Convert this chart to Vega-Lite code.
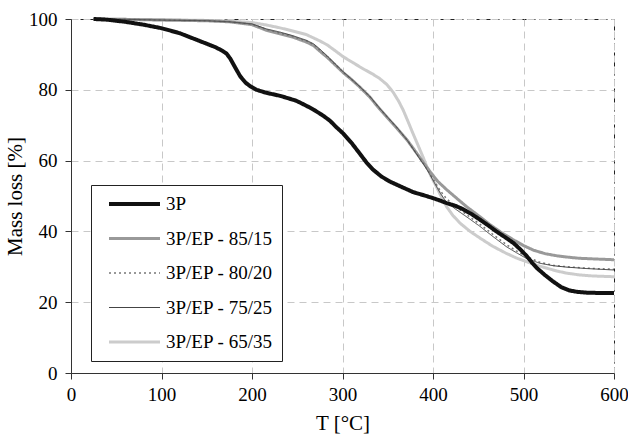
{
  "$schema": "https://vega.github.io/schema/vega-lite/v6.json",
  "width": 543,
  "height": 354,
  "autosize": {"type": "none"},
  "padding": {"left": 71, "top": 19, "right": 14, "bottom": 61},
  "background": "white",
  "config": {
    "font": "Liberation Serif",
    "view": {"stroke": "#222", "strokeDash": [5, 4], "strokeWidth": 1},
    "axis": {
      "labelFont": "Liberation Serif",
      "titleFont": "Liberation Serif",
      "labelFontSize": 19,
      "titleFontSize": 21,
      "titleFontWeight": "normal",
      "labelColor": "#000",
      "titleColor": "#000",
      "domainColor": "#333",
      "tickColor": "#333",
      "tickSize": 6,
      "gridColor": "#c8c8c8",
      "gridDash": [7, 5],
      "gridWidth": 1
    },
    "legend": {
      "labelFont": "Liberation Serif",
      "labelFontSize": 19,
      "labelFontWeight": "normal",
      "labelColor": "#000"
    }
  },
  "data": {
    "values": [
      {"s": "3P", "T": 25, "M": 100}, {"s": "3P", "T": 40, "M": 99.8}, {"s": "3P", "T": 60, "M": 99.2}, {"s": "3P", "T": 80, "M": 98.4}, {"s": "3P", "T": 100, "M": 97.4}, {"s": "3P", "T": 120, "M": 96.0}, {"s": "3P", "T": 142, "M": 93.8}, {"s": "3P", "T": 160, "M": 92.0}, {"s": "3P", "T": 168, "M": 90.9}, {"s": "3P", "T": 172, "M": 90.2}, {"s": "3P", "T": 176, "M": 88.8}, {"s": "3P", "T": 181, "M": 86.5}, {"s": "3P", "T": 187, "M": 83.8}, {"s": "3P", "T": 193, "M": 82.0}, {"s": "3P", "T": 198, "M": 81.0}, {"s": "3P", "T": 205, "M": 80.0}, {"s": "3P", "T": 215, "M": 79.2}, {"s": "3P", "T": 231, "M": 78.3}, {"s": "3P", "T": 249, "M": 76.9}, {"s": "3P", "T": 260, "M": 75.5}, {"s": "3P", "T": 268, "M": 74.4}, {"s": "3P", "T": 278, "M": 72.8}, {"s": "3P", "T": 286, "M": 71.3}, {"s": "3P", "T": 293, "M": 69.5}, {"s": "3P", "T": 301, "M": 67.6}, {"s": "3P", "T": 310, "M": 65.0}, {"s": "3P", "T": 319, "M": 62.0}, {"s": "3P", "T": 327, "M": 59.3}, {"s": "3P", "T": 334, "M": 57.4}, {"s": "3P", "T": 343, "M": 55.5}, {"s": "3P", "T": 353, "M": 54.0}, {"s": "3P", "T": 365, "M": 52.6}, {"s": "3P", "T": 378, "M": 51.1}, {"s": "3P", "T": 390, "M": 50.2}, {"s": "3P", "T": 400, "M": 49.4}, {"s": "3P", "T": 408, "M": 48.7}, {"s": "3P", "T": 415, "M": 48.0}, {"s": "3P", "T": 425, "M": 47.2}, {"s": "3P", "T": 433, "M": 46.3}, {"s": "3P", "T": 442, "M": 45.0}, {"s": "3P", "T": 452, "M": 43.3}, {"s": "3P", "T": 461, "M": 41.7}, {"s": "3P", "T": 470, "M": 40.0}, {"s": "3P", "T": 480, "M": 38.3}, {"s": "3P", "T": 489, "M": 36.7}, {"s": "3P", "T": 497, "M": 34.8}, {"s": "3P", "T": 504, "M": 32.9}, {"s": "3P", "T": 510, "M": 31.0}, {"s": "3P", "T": 515, "M": 29.6}, {"s": "3P", "T": 524, "M": 27.6}, {"s": "3P", "T": 533, "M": 25.8}, {"s": "3P", "T": 542, "M": 24.2}, {"s": "3P", "T": 551, "M": 23.3}, {"s": "3P", "T": 560, "M": 22.9}, {"s": "3P", "T": 570, "M": 22.7}, {"s": "3P", "T": 585, "M": 22.6}, {"s": "3P", "T": 600, "M": 22.6},

      {"s": "3P/EP - 85/15", "T": 25, "M": 100}, {"s": "3P/EP - 85/15", "T": 60, "M": 99.9}, {"s": "3P/EP - 85/15", "T": 100, "M": 99.7}, {"s": "3P/EP - 85/15", "T": 150, "M": 99.5}, {"s": "3P/EP - 85/15", "T": 175, "M": 99.2}, {"s": "3P/EP - 85/15", "T": 200, "M": 98.4}, {"s": "3P/EP - 85/15", "T": 216, "M": 96.8}, {"s": "3P/EP - 85/15", "T": 231, "M": 95.8}, {"s": "3P/EP - 85/15", "T": 245, "M": 94.9}, {"s": "3P/EP - 85/15", "T": 260, "M": 93.5}, {"s": "3P/EP - 85/15", "T": 268, "M": 92.5}, {"s": "3P/EP - 85/15", "T": 275, "M": 90.9}, {"s": "3P/EP - 85/15", "T": 283, "M": 89.2}, {"s": "3P/EP - 85/15", "T": 290, "M": 87.5}, {"s": "3P/EP - 85/15", "T": 301, "M": 84.8}, {"s": "3P/EP - 85/15", "T": 310, "M": 82.9}, {"s": "3P/EP - 85/15", "T": 319, "M": 80.8}, {"s": "3P/EP - 85/15", "T": 330, "M": 78.0}, {"s": "3P/EP - 85/15", "T": 341, "M": 74.6}, {"s": "3P/EP - 85/15", "T": 350, "M": 72.0}, {"s": "3P/EP - 85/15", "T": 360, "M": 69.2}, {"s": "3P/EP - 85/15", "T": 372, "M": 65.6}, {"s": "3P/EP - 85/15", "T": 384, "M": 61.4}, {"s": "3P/EP - 85/15", "T": 390, "M": 59.2}, {"s": "3P/EP - 85/15", "T": 397, "M": 56.8}, {"s": "3P/EP - 85/15", "T": 405, "M": 54.2}, {"s": "3P/EP - 85/15", "T": 415, "M": 51.8}, {"s": "3P/EP - 85/15", "T": 426, "M": 49.4}, {"s": "3P/EP - 85/15", "T": 437, "M": 47.0}, {"s": "3P/EP - 85/15", "T": 450, "M": 44.5}, {"s": "3P/EP - 85/15", "T": 463, "M": 41.9}, {"s": "3P/EP - 85/15", "T": 476, "M": 39.6}, {"s": "3P/EP - 85/15", "T": 489, "M": 37.6}, {"s": "3P/EP - 85/15", "T": 500, "M": 36.0}, {"s": "3P/EP - 85/15", "T": 511, "M": 34.7}, {"s": "3P/EP - 85/15", "T": 524, "M": 33.7}, {"s": "3P/EP - 85/15", "T": 537, "M": 33.1}, {"s": "3P/EP - 85/15", "T": 550, "M": 32.7}, {"s": "3P/EP - 85/15", "T": 562, "M": 32.4}, {"s": "3P/EP - 85/15", "T": 580, "M": 32.2}, {"s": "3P/EP - 85/15", "T": 600, "M": 32.0},

      {"s": "3P/EP - 80/20", "T": 25, "M": 100}, {"s": "3P/EP - 80/20", "T": 60, "M": 99.9}, {"s": "3P/EP - 80/20", "T": 100, "M": 99.7}, {"s": "3P/EP - 80/20", "T": 150, "M": 99.5}, {"s": "3P/EP - 80/20", "T": 175, "M": 99.2}, {"s": "3P/EP - 80/20", "T": 200, "M": 98.5}, {"s": "3P/EP - 80/20", "T": 216, "M": 97.0}, {"s": "3P/EP - 80/20", "T": 231, "M": 96.0}, {"s": "3P/EP - 80/20", "T": 245, "M": 95.0}, {"s": "3P/EP - 80/20", "T": 260, "M": 93.8}, {"s": "3P/EP - 80/20", "T": 268, "M": 92.8}, {"s": "3P/EP - 80/20", "T": 275, "M": 91.2}, {"s": "3P/EP - 80/20", "T": 283, "M": 89.4}, {"s": "3P/EP - 80/20", "T": 290, "M": 87.6}, {"s": "3P/EP - 80/20", "T": 301, "M": 84.9}, {"s": "3P/EP - 80/20", "T": 310, "M": 82.9}, {"s": "3P/EP - 80/20", "T": 319, "M": 80.9}, {"s": "3P/EP - 80/20", "T": 330, "M": 78.1}, {"s": "3P/EP - 80/20", "T": 341, "M": 74.7}, {"s": "3P/EP - 80/20", "T": 350, "M": 72.1}, {"s": "3P/EP - 80/20", "T": 360, "M": 69.3}, {"s": "3P/EP - 80/20", "T": 372, "M": 65.6}, {"s": "3P/EP - 80/20", "T": 384, "M": 61.2}, {"s": "3P/EP - 80/20", "T": 390, "M": 59.0}, {"s": "3P/EP - 80/20", "T": 396, "M": 56.6}, {"s": "3P/EP - 80/20", "T": 402, "M": 54.0}, {"s": "3P/EP - 80/20", "T": 408, "M": 51.5}, {"s": "3P/EP - 80/20", "T": 415, "M": 49.2}, {"s": "3P/EP - 80/20", "T": 426, "M": 46.8}, {"s": "3P/EP - 80/20", "T": 440, "M": 44.2}, {"s": "3P/EP - 80/20", "T": 452, "M": 42.0}, {"s": "3P/EP - 80/20", "T": 466, "M": 39.2}, {"s": "3P/EP - 80/20", "T": 481, "M": 36.3}, {"s": "3P/EP - 80/20", "T": 492, "M": 34.5}, {"s": "3P/EP - 80/20", "T": 503, "M": 32.9}, {"s": "3P/EP - 80/20", "T": 518, "M": 31.3}, {"s": "3P/EP - 80/20", "T": 533, "M": 30.4}, {"s": "3P/EP - 80/20", "T": 548, "M": 30.0}, {"s": "3P/EP - 80/20", "T": 570, "M": 29.6}, {"s": "3P/EP - 80/20", "T": 600, "M": 29.3},

      {"s": "3P/EP - 75/25", "T": 25, "M": 100}, {"s": "3P/EP - 75/25", "T": 60, "M": 99.9}, {"s": "3P/EP - 75/25", "T": 100, "M": 99.7}, {"s": "3P/EP - 75/25", "T": 150, "M": 99.5}, {"s": "3P/EP - 75/25", "T": 175, "M": 99.2}, {"s": "3P/EP - 75/25", "T": 200, "M": 98.6}, {"s": "3P/EP - 75/25", "T": 216, "M": 97.2}, {"s": "3P/EP - 75/25", "T": 231, "M": 96.3}, {"s": "3P/EP - 75/25", "T": 245, "M": 95.3}, {"s": "3P/EP - 75/25", "T": 260, "M": 94.0}, {"s": "3P/EP - 75/25", "T": 268, "M": 93.0}, {"s": "3P/EP - 75/25", "T": 275, "M": 91.5}, {"s": "3P/EP - 75/25", "T": 283, "M": 89.6}, {"s": "3P/EP - 75/25", "T": 290, "M": 87.8}, {"s": "3P/EP - 75/25", "T": 301, "M": 85.0}, {"s": "3P/EP - 75/25", "T": 310, "M": 83.0}, {"s": "3P/EP - 75/25", "T": 319, "M": 80.9}, {"s": "3P/EP - 75/25", "T": 330, "M": 78.2}, {"s": "3P/EP - 75/25", "T": 341, "M": 74.8}, {"s": "3P/EP - 75/25", "T": 350, "M": 72.2}, {"s": "3P/EP - 75/25", "T": 360, "M": 69.4}, {"s": "3P/EP - 75/25", "T": 372, "M": 65.6}, {"s": "3P/EP - 75/25", "T": 384, "M": 61.0}, {"s": "3P/EP - 75/25", "T": 390, "M": 58.8}, {"s": "3P/EP - 75/25", "T": 396, "M": 56.3}, {"s": "3P/EP - 75/25", "T": 402, "M": 53.5}, {"s": "3P/EP - 75/25", "T": 408, "M": 50.8}, {"s": "3P/EP - 75/25", "T": 415, "M": 48.2}, {"s": "3P/EP - 75/25", "T": 426, "M": 46.1}, {"s": "3P/EP - 75/25", "T": 440, "M": 43.6}, {"s": "3P/EP - 75/25", "T": 452, "M": 41.4}, {"s": "3P/EP - 75/25", "T": 466, "M": 38.6}, {"s": "3P/EP - 75/25", "T": 481, "M": 35.7}, {"s": "3P/EP - 75/25", "T": 492, "M": 34.0}, {"s": "3P/EP - 75/25", "T": 503, "M": 32.4}, {"s": "3P/EP - 75/25", "T": 518, "M": 31.0}, {"s": "3P/EP - 75/25", "T": 533, "M": 30.3}, {"s": "3P/EP - 75/25", "T": 548, "M": 29.9}, {"s": "3P/EP - 75/25", "T": 570, "M": 29.5}, {"s": "3P/EP - 75/25", "T": 600, "M": 29.1},

      {"s": "3P/EP - 65/35", "T": 25, "M": 100}, {"s": "3P/EP - 65/35", "T": 60, "M": 99.9}, {"s": "3P/EP - 65/35", "T": 100, "M": 99.8}, {"s": "3P/EP - 65/35", "T": 150, "M": 99.6}, {"s": "3P/EP - 65/35", "T": 175, "M": 99.4}, {"s": "3P/EP - 65/35", "T": 200, "M": 99.0}, {"s": "3P/EP - 65/35", "T": 216, "M": 98.3}, {"s": "3P/EP - 65/35", "T": 231, "M": 97.5}, {"s": "3P/EP - 65/35", "T": 245, "M": 96.6}, {"s": "3P/EP - 65/35", "T": 260, "M": 95.6}, {"s": "3P/EP - 65/35", "T": 275, "M": 93.8}, {"s": "3P/EP - 65/35", "T": 283, "M": 92.7}, {"s": "3P/EP - 65/35", "T": 290, "M": 91.4}, {"s": "3P/EP - 65/35", "T": 301, "M": 89.3}, {"s": "3P/EP - 65/35", "T": 312, "M": 87.6}, {"s": "3P/EP - 65/35", "T": 323, "M": 85.9}, {"s": "3P/EP - 65/35", "T": 333, "M": 84.5}, {"s": "3P/EP - 65/35", "T": 341, "M": 83.2}, {"s": "3P/EP - 65/35", "T": 349, "M": 81.5}, {"s": "3P/EP - 65/35", "T": 356, "M": 79.3}, {"s": "3P/EP - 65/35", "T": 362, "M": 76.8}, {"s": "3P/EP - 65/35", "T": 367, "M": 74.3}, {"s": "3P/EP - 65/35", "T": 372, "M": 71.3}, {"s": "3P/EP - 65/35", "T": 377, "M": 68.2}, {"s": "3P/EP - 65/35", "T": 384, "M": 64.0}, {"s": "3P/EP - 65/35", "T": 389, "M": 61.0}, {"s": "3P/EP - 65/35", "T": 393, "M": 58.4}, {"s": "3P/EP - 65/35", "T": 398, "M": 55.5}, {"s": "3P/EP - 65/35", "T": 404, "M": 52.5}, {"s": "3P/EP - 65/35", "T": 410, "M": 49.4}, {"s": "3P/EP - 65/35", "T": 415, "M": 47.0}, {"s": "3P/EP - 65/35", "T": 422, "M": 44.5}, {"s": "3P/EP - 65/35", "T": 430, "M": 42.3}, {"s": "3P/EP - 65/35", "T": 441, "M": 40.0}, {"s": "3P/EP - 65/35", "T": 452, "M": 38.1}, {"s": "3P/EP - 65/35", "T": 466, "M": 35.8}, {"s": "3P/EP - 65/35", "T": 481, "M": 33.8}, {"s": "3P/EP - 65/35", "T": 492, "M": 32.5}, {"s": "3P/EP - 65/35", "T": 504, "M": 31.4}, {"s": "3P/EP - 65/35", "T": 515, "M": 30.4}, {"s": "3P/EP - 65/35", "T": 526, "M": 29.6}, {"s": "3P/EP - 65/35", "T": 537, "M": 28.8}, {"s": "3P/EP - 65/35", "T": 548, "M": 28.2}, {"s": "3P/EP - 65/35", "T": 562, "M": 27.7}, {"s": "3P/EP - 65/35", "T": 577, "M": 27.4}, {"s": "3P/EP - 65/35", "T": 600, "M": 27.2}
    ]
  },
  "encoding": {
    "x": {
      "field": "T", "type": "quantitative",
      "scale": {"domain": [0, 600], "nice": false},
      "axis": {"title": "T [°C]", "values": [0, 100, 200, 300, 400, 500, 600], "labelPadding": 6, "titlePadding": 8, "labelFlush": false}
    },
    "y": {
      "field": "M", "type": "quantitative",
      "scale": {"domain": [0, 100], "nice": false},
      "axis": {"title": "Mass loss [%]", "values": [0, 20, 40, 60, 80, 100], "labelPadding": 8, "titlePadding": 3}
    },
    "color": {
      "field": "s", "type": "nominal",
      "scale": {"domain": ["3P", "3P/EP - 85/15", "3P/EP - 80/20", "3P/EP - 75/25", "3P/EP - 65/35"], "range": ["#111111", "#999999", "#777777", "#444444", "#cccccc"]},
      "legend": {
        "title": null, "orient": "none", "legendX": 20, "legendY": 166,
        "direction": "vertical", "symbolType": "stroke", "symbolSize": 2601,
        "clipHeight": 20, "rowPadding": 14.5, "padding": 9, "labelOffset": 4,
        "labelFontWeight": "normal",
        "strokeColor": "#222", "fillColor": "white", "symbolOffset": 7
      }
    },
    "strokeDash": {
      "field": "s", "type": "nominal",
      "scale": {"domain": ["3P", "3P/EP - 85/15", "3P/EP - 80/20", "3P/EP - 75/25", "3P/EP - 65/35"], "range": [[1, 0], [1, 0], [2, 3], [1, 0], [1, 0]]}
    },
    "strokeWidth": {
      "field": "s", "type": "nominal",
      "scale": {"type": "ordinal", "domain": ["3P", "3P/EP - 85/15", "3P/EP - 80/20", "3P/EP - 75/25", "3P/EP - 65/35"], "range": [4, 3, 1.5, 1, 3]}
    }
  },
  "layer": [
    {"transform": [{"filter": "datum.s == '3P/EP - 65/35'"}], "mark": {"type": "line"}},
    {"transform": [{"filter": "datum.s == '3P/EP - 85/15'"}], "mark": {"type": "line"}},
    {"transform": [{"filter": "datum.s == '3P/EP - 80/20'"}], "mark": {"type": "line"}},
    {"transform": [{"filter": "datum.s == '3P/EP - 75/25'"}], "mark": {"type": "line"}},
    {"transform": [{"filter": "datum.s == '3P'"}], "mark": {"type": "line"}}
  ]
}
